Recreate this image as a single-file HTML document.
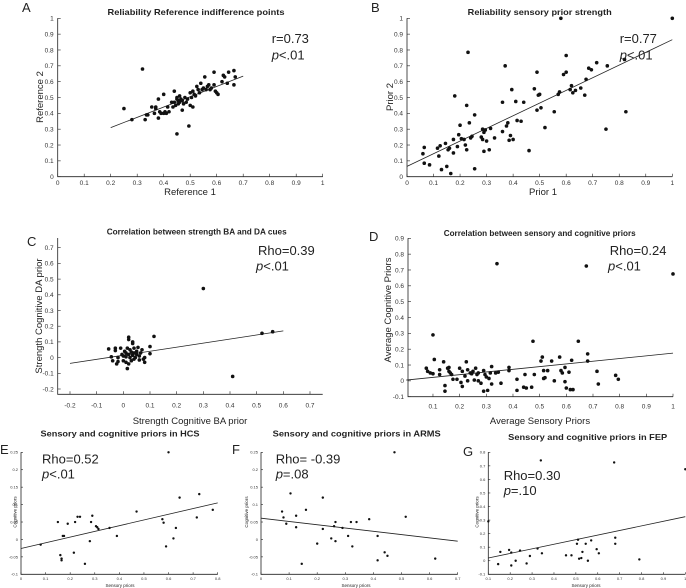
<!DOCTYPE html>
<html><head><meta charset="utf-8"><style>
html,body{margin:0;padding:0;background:#fff;}
svg{display:block;font-family:"Liberation Sans",sans-serif;}
</style></head><body>
<svg id="fig" width="686" height="588" viewBox="0 0 686 588" xmlns="http://www.w3.org/2000/svg"></svg>
<script>
// ---------- data ----------
const aX=[0.25,0.28,0.32,0.33,0.335,0.34,0.355,0.365,0.37,0.37,0.38,0.38,0.385,0.39,0.40,0.40,0.405,0.41,0.415,0.42,0.43,0.435,0.44,0.44,0.445,0.45,0.45,0.45,0.455,0.455,0.46,0.46,0.465,0.47,0.47,0.475,0.48,0.485,0.49,0.495,0.50,0.50,0.505,0.51,0.51,0.515,0.52,0.525,0.53,0.535,0.54,0.545,0.55,0.555,0.56,0.565,0.57,0.575,0.58,0.59,0.59,0.595,0.60,0.605,0.62,0.625,0.63,0.64,0.645,0.665,0.665,0.67];
const aY=[0.43,0.36,0.68,0.36,0.39,0.39,0.44,0.40,0.44,0.43,0.49,0.37,0.41,0.40,0.40,0.52,0.41,0.40,0.44,0.41,0.47,0.44,0.54,0.47,0.45,0.27,0.49,0.50,0.48,0.46,0.51,0.47,0.49,0.42,0.48,0.46,0.50,0.47,0.49,0.32,0.45,0.53,0.50,0.54,0.44,0.52,0.51,0.57,0.55,0.53,0.59,0.55,0.56,0.63,0.55,0.57,0.58,0.55,0.56,0.66,0.58,0.54,0.53,0.52,0.60,0.64,0.63,0.59,0.66,0.67,0.58,0.63];
const aFit=[0.2,0.31,0.7,0.635];
const bX=[0.06,0.065,0.065,0.085,0.115,0.12,0.125,0.13,0.145,0.15,0.155,0.16,0.165,0.175,0.175,0.18,0.19,0.195,0.2,0.205,0.215,0.22,0.225,0.225,0.23,0.235,0.24,0.245,0.255,0.255,0.28,0.285,0.285,0.29,0.29,0.295,0.3,0.31,0.315,0.33,0.36,0.36,0.37,0.375,0.38,0.385,0.39,0.395,0.4,0.41,0.415,0.43,0.44,0.46,0.48,0.49,0.49,0.495,0.5,0.505,0.52,0.555,0.57,0.575,0.58,0.59,0.6,0.6,0.615,0.62,0.625,0.635,0.655,0.67,0.675,0.685,0.695,0.715,0.75,0.755,0.82,0.825,1.0];
const bY=[0.145,0.185,0.085,0.075,0.18,0.13,0.195,0.045,0.21,0.065,0.17,0.18,0.02,0.15,0.235,0.51,0.19,0.265,0.325,0.24,0.235,0.2,0.17,0.45,0.785,0.34,0.245,0.255,0.05,0.39,0.25,0.3,0.235,0.16,0.28,0.295,0.225,0.17,0.305,0.245,0.285,0.47,0.7,0.32,0.34,0.23,0.26,0.55,0.235,0.475,0.355,0.35,0.47,0.165,0.555,0.42,0.66,0.515,0.52,0.435,0.31,0.41,0.52,0.535,1.0,0.645,0.765,0.66,0.55,0.575,0.53,0.545,0.56,0.515,0.615,0.685,0.675,0.72,0.3,0.7,0.74,0.41,1.0];
const bFit=[0,0.065,1,0.865];
const cX=[-0.055,-0.045,-0.04,-0.03,-0.03,-0.025,-0.02,-0.02,-0.01,-0.005,0,0,0.005,0.01,0.01,0.01,0.015,0.015,0.02,0.02,0.02,0.02,0.025,0.025,0.03,0.03,0.035,0.035,0.035,0.04,0.04,0.04,0.045,0.05,0.05,0.055,0.06,0.06,0.065,0.07,0.075,0.08,0.08,0.1,0.1,0.115,0.3,0.41,0.52,0.56];
const cY=[0.055,0.005,-0.02,0.06,0.045,-0.04,0.0,-0.025,0.06,0.02,0.01,-0.02,0.04,0.03,0.005,-0.03,0.06,-0.07,0.13,0.115,0.02,-0.04,0.05,0.0,0.035,-0.02,0.09,0.1,0.015,0.06,0.03,-0.01,0.0,0.04,0.02,0.065,0.01,-0.015,0.03,0.05,-0.01,-0.03,0.0,0.07,0.025,0.135,0.44,-0.12,0.155,0.165];
const cFit=[-0.2,-0.037,0.6,0.17];
const dX=[0.1,0.105,0.075,0.08,0.09,0.1,0.125,0.125,0.14,0.145,0.145,0.155,0.16,0.16,0.165,0.17,0.175,0.19,0.2,0.205,0.21,0.21,0.22,0.225,0.23,0.23,0.24,0.245,0.25,0.255,0.26,0.265,0.27,0.27,0.28,0.29,0.29,0.295,0.3,0.305,0.31,0.315,0.32,0.32,0.335,0.34,0.345,0.355,0.385,0.385,0.415,0.415,0.44,0.445,0.45,0.47,0.475,0.48,0.505,0.51,0.515,0.515,0.52,0.53,0.545,0.555,0.575,0.58,0.585,0.595,0.595,0.6,0.61,0.615,0.62,0.625,0.645,0.675,0.68,0.68,0.715,0.72,0.785,0.795,1.0];
const dY=[0.29,0.135,0.08,0.06,0.05,0.045,0.07,0.04,0.12,-0.03,-0.065,0.08,0.085,0.06,0.05,0.04,0.01,0.01,0.08,-0.01,0.06,-0.035,0.03,0.12,0.07,0.0,0.05,0.045,0.06,0.005,0.08,0.04,0.05,0.0,-0.015,0.065,-0.065,0.04,0.025,-0.06,0.015,0.05,0.09,-0.02,0.05,0.74,0.055,-0.015,0.065,0.085,0.01,-0.06,-0.04,0.04,-0.045,-0.04,0.25,0.04,0.125,0.15,0.065,0.015,0.02,0.065,0.125,0.0,0.15,0.065,0.05,0.085,-0.005,-0.045,0.055,-0.055,0.13,-0.055,0.25,0.725,0.17,0.125,0.06,-0.02,0.035,0.01,0.675];
const dFit=[0,0.005,1,0.175];
const eX=[0.08,0.15,0.16,0.165,0.165,0.17,0.175,0.19,0.215,0.22,0.23,0.24,0.26,0.28,0.285,0.29,0.305,0.31,0.315,0.36,0.39,0.47,0.575,0.58,0.59,0.6,0.62,0.63,0.645,0.715,0.725,0.78];
const eY=[-0.015,0.05,-0.045,-0.055,-0.06,0.01,0.01,0.045,-0.038,0.05,0.065,0.065,-0.07,-0.005,0.05,0.068,0.038,0.035,0.03,0.033,0.01,0.08,0.058,0.048,-0.02,0.25,0.003,0.033,0.12,0.063,0.13,0.085];
const eFit=[0,-0.026,0.8,0.105];
const fX=[0.075,0.08,0.09,0.105,0.125,0.125,0.145,0.16,0.2,0.22,0.22,0.25,0.26,0.265,0.265,0.29,0.31,0.32,0.325,0.34,0.385,0.415,0.415,0.44,0.45,0.475,0.515,0.62];
const fY=[0.08,0.063,0.045,0.132,0.068,0.035,-0.07,0.085,-0.012,0.12,0.03,0.003,0.038,0.05,-0.005,0.033,0.01,0.05,-0.02,0.05,0.058,0.01,-0.06,-0.037,-0.047,0.25,0.065,-0.055];
const fFit=[0,0.061,0.7,-0.005];
const gX=[0.1,0.145,0.155,0.195,0.205,0.205,0.225,0.245,0.275,0.29,0.325,0.34,0.345,0.455,0.48,0.505,0.51,0.515,0.525,0.53,0.545,0.555,0.57,0.595,0.605,0.675,0.68,0.68,0.79,1.0];
const gY=[0.29,-0.025,0.065,0.08,0.06,-0.035,0.0,0.075,-0.02,0.035,0.09,0.74,0.055,0.04,0.04,0.125,0.155,0.015,0.02,0.065,0.125,0.0,0.15,0.085,0.055,0.725,0.17,0.125,0.01,0.675];
const gFit=[0.1,0.02,1,0.325];
const ticks01=["0","0.1","0.2","0.3","0.4","0.5","0.6","0.7","0.8","0.9","1"];
const cXTicks=["-0.2","-0.1","0","0.1","0.2","0.3","0.4","0.5","0.6","0.7"];
const cYTicks=["-0.2","-0.1","0","0.1","0.2","0.3","0.4","0.5","0.6","0.7"];
const dXTicks=["0.1","0.2","0.3","0.4","0.5","0.6","0.7","0.8","0.9","1"];
const dYTicks=["-0.1","0","0.1","0.2","0.3","0.4","0.5","0.6","0.7","0.8","0.9"];
const eXTicks=["0","0.1","0.2","0.3","0.4","0.5","0.6","0.7","0.8"];
const efYTicks=["-0.1","-0.05","0","0.05","0.1","0.15","0.2","0.25"];
const fXTicks=["0","0.1","0.2","0.3","0.4","0.5","0.6","0.7"];
const gXTicks=["0.1","0.2","0.3","0.4","0.5","0.6","0.7","0.8","0.9","1"];
const gYTicks=["-0.1","0","0.1","0.2","0.3","0.4","0.5","0.6","0.7","0.8"];

const NS="http://www.w3.org/2000/svg";
const svg=document.getElementById('fig');
function mk(tag,attrs,parent,txt){const e=document.createElementNS(NS,tag);for(const k in attrs)e.setAttribute(k,attrs[k]);if(txt!==undefined)e.textContent=txt;(parent||svg).appendChild(e);return e;}

function panel(p){
  const g=mk('g',{},svg);
  
  
  const sx=v=>p.px0+(v-p.x0)*(p.px1-p.px0)/(p.x1-p.x0);
  const sy=v=>p.py0+(v-p.y0)*(p.py1-p.py0)/(p.y1-p.y0);
  const ax=mk('path',{d:`M${p.L},${p.T}V${p.B}H${p.R}`,fill:'none',stroke:'#222','stroke-width':0.8},g);
  
  
  p.xt.forEach(t=>{const v=parseFloat(t),x=sx(v);
    mk('line',{x1:x,x2:x,y1:p.B,y2:p.B-p.tl,stroke:'#222','stroke-width':0.6},g);
    const tx=mk('text',{x:x,y:p.B+p.xo,'font-size':p.tf,'text-anchor':'middle',fill:'#333'},g,t);
    
    
  });
  p.yt.forEach(t=>{const v=parseFloat(t),y=sy(v);
    mk('line',{x1:p.L,x2:p.L+p.tl,y1:y,y2:y,stroke:'#222','stroke-width':0.6},g);
    const tx=mk('text',{x:p.L-p.yo,y:y+p.tf*0.35,'font-size':p.tf,'text-anchor':'end',fill:'#333'},g,t);
    
    
  });
  const fl=mk('line',{x1:sx(p.fit[0]),y1:sy(p.fit[1]),x2:sx(p.fit[2]),y2:sy(p.fit[3]),stroke:'#222','stroke-width':0.8},g);
  
  
  p.xs.forEach((v,i)=>{
    const c=mk('circle',{cx:sx(v),cy:sy(p.ys[i]),r:p.r,fill:'#111'},g);
    
    
  });
}
panel({name:'panel-a',x0:0,x1:1,px0:57.7,px1:322.7,y0:0,y1:1,py0:176.7,py1:18.3,L:57.7,R:322.7,T:18.3,B:176.7,xt:ticks01,yt:ticks01,tl:3,tf:6.5,xo:8.5,yo:4,fit:aFit,xs:aX,ys:aY,r:1.8});
panel({name:'panel-b',x0:0,x1:1,px0:407,px1:672.3,y0:0,y1:1,py0:176.7,py1:18.3,L:407,R:672.3,T:18.3,B:176.7,xt:ticks01,yt:ticks01,tl:3,tf:6.5,xo:8.5,yo:4,fit:bFit,xs:bX,ys:bY,r:1.8});
panel({name:'panel-c',x0:-0.2,x1:0.7,px0:70,px1:310,y0:-0.2,y1:0.7,py0:389,py1:247.7,L:57.7,R:322.7,T:238,B:394.3,xt:cXTicks,yt:cYTicks,tl:3,tf:6.5,xo:13,yo:4,fit:cFit,xs:cX,ys:cY,r:1.8});
panel({name:'panel-d',x0:0,x1:1,px0:406.3,px1:673,y0:-0.1,y1:0.9,py0:396.7,py1:238.3,L:408,R:673,T:238.3,B:396.7,xt:dXTicks,yt:dYTicks,tl:3,tf:6.5,xo:12,yo:4,fit:dFit,xs:dX,ys:dY,r:1.8});
panel({name:'panel-e',x0:0,x1:0.8,px0:21,px1:217.7,y0:-0.1,y1:0.25,py0:574.3,py1:452.3,L:21,R:217.7,T:452.3,B:574.3,xt:eXTicks,yt:efYTicks,tl:2,tf:4,xo:5.5,yo:3,fit:eFit,xs:eX,ys:eY,r:1.2});
panel({name:'panel-f',x0:0,x1:0.7,px0:261,px1:457.7,y0:-0.1,y1:0.25,py0:574.3,py1:452.3,L:261,R:457.7,T:452.3,B:574.3,xt:fXTicks,yt:efYTicks,tl:2,tf:4,xo:5.5,yo:3,fit:fFit,xs:fX,ys:fY,r:1.2});
panel({name:'panel-g',x0:0.1,x1:1,px0:488.3,px1:685.3,y0:-0.1,y1:0.8,py0:574.3,py1:452.3,L:488.3,R:685.3,T:452.3,B:574.3,xt:gXTicks,yt:gYTicks,tl:2,tf:4,xo:5.5,yo:3,fit:gFit,xs:gX,ys:gY,r:1.2});
</script>
<svg width="0" height="0" style="position:absolute"></svg>
<script>
// static text
const T=[
 ['panel-letter','A',22,12,13,'start',0,null,'normal'],
 ['panel-letter','B',371,12,13,'start',0,null,'normal'],
 ['panel-letter','C',27,246,13,'start',0,null,'normal'],
 ['panel-letter','D',369,241,13,'start',0,null,'normal'],
 ['panel-letter','E',0,454,13,'start',0,null,'normal'],
 ['panel-letter','F',232,454,13,'start',0,null,'normal'],
 ['panel-letter','G',463,456,13,'start',0,null,'normal'],
 ['chart-title','Reliability Reference indifference points',196,15,8.5,'middle',0,177,'bold'],
 ['chart-title','Reliability sensory prior strength',539.7,15,8.5,'middle',0,144,'bold'],
 ['chart-title','Correlation between strength BA and DA cues',196.7,234.5,8.5,'middle',0,180,'bold'],
 ['chart-title','Correlation between sensory and cognitive priors',539.7,236,8.5,'middle',0,192,'bold'],
 ['chart-title','Sensory and cognitive priors in HCS',120,436.5,8.5,'middle',0,159,'bold'],
 ['chart-title','Sensory and cognitive priors in ARMS',356.7,436.5,8.5,'middle',0,168,'bold'],
 ['chart-title','Sensory and cognitive priors in FEP',587.7,440,8.5,'middle',0,159,'bold'],
 ['x-axis-title','Reference 1',190,195,9.5,'middle',0,null,'normal'],
 ['x-axis-title','Prior 1',543,195,9.5,'middle',0,null,'normal'],
 ['x-axis-title','Strength Cognitive BA prior',190,424,9.5,'middle',0,null,'normal'],
 ['x-axis-title','Average Sensory Priors',540,424,9.5,'middle',0,null,'normal'],
 ['x-axis-title','Sensory priors',120,587,4.5,'middle',0,null,'normal'],
 ['x-axis-title','Sensory priors',356,587,4.5,'middle',0,null,'normal'],
 ['x-axis-title','Sensory priors',586,587,4.5,'middle',0,null,'normal'],
 ['y-axis-title','Reference 2',43,97,9.5,'middle',-90,null,'normal'],
 ['y-axis-title','Prior 2',393,97,9.5,'middle',-90,null,'normal'],
 ['y-axis-title','Strength Cognitive DA prior',42,316,9.5,'middle',-90,null,'normal'],
 ['y-axis-title','Average Cognitive Priors',391,310,9.5,'middle',-90,null,'normal'],
 ['y-axis-title','Cognitive priors',16.5,512,4.5,'middle',-90,null,'normal'],
 ['y-axis-title','Cognitive priors',248,512,4.5,'middle',-90,null,'normal'],
 ['y-axis-title','Cognitive priors',478.5,512,4.5,'middle',-90,null,'normal'],
 ['stat-r','r=0.73',271.7,43,13,'start',0,null,'normal'],
 ['stat-r','r=0.77',619.7,43,13,'start',0,null,'normal'],
 ['stat-rho','Rho=0.39',258,255,13,'start',0,null,'normal'],
 ['stat-rho','Rho=0.24',609.7,255,13,'start',0,null,'normal'],
 ['stat-rho','Rho=0.52',42,463.5,13,'start',0,null,'normal'],
 ['stat-rho','Rho= -0.39',275.7,463.5,13,'start',0,null,'normal'],
 ['stat-rho','Rho=0.30',503.7,480,13,'start',0,null,'normal']
];
const P=[['p-value','<.01',271.7,59.5],['p-value','<.01',619.7,59.5],['p-value','<.01',256,270.5],['p-value','<.01',608,270.5],['p-value','<.01',42,478.5],['p-value','=.08',275.7,478.5],['p-value','=.10',503.7,495]];
const root=document.getElementById('fig');
T.forEach(t=>{
  const e=document.createElementNS("http://www.w3.org/2000/svg",'text');
  e.setAttribute('x',t[2]);e.setAttribute('y',t[3]);e.setAttribute('font-size',t[4]);
  e.setAttribute('text-anchor',t[5]);e.setAttribute('font-weight',t[8]);e.setAttribute('fill','#222');
  if(t[6])e.setAttribute('transform',`rotate(${t[6]} ${t[2]} ${t[3]})`);
  if(t[7]){e.setAttribute('textLength',t[7]);e.setAttribute('lengthAdjust','spacingAndGlyphs');}
  e.textContent=t[1];
  
  
  root.appendChild(e);
});
P.forEach(t=>{
  const e=document.createElementNS("http://www.w3.org/2000/svg",'text');
  e.setAttribute('x',t[2]);e.setAttribute('y',t[3]);e.setAttribute('font-size',13);e.setAttribute('fill','#222');
  const ts=document.createElementNS("http://www.w3.org/2000/svg",'tspan');ts.setAttribute('font-style','italic');ts.textContent='p';
  e.appendChild(ts);e.appendChild(document.createTextNode(t[1]));
  
  
  root.appendChild(e);
});
</script>
</body></html>
